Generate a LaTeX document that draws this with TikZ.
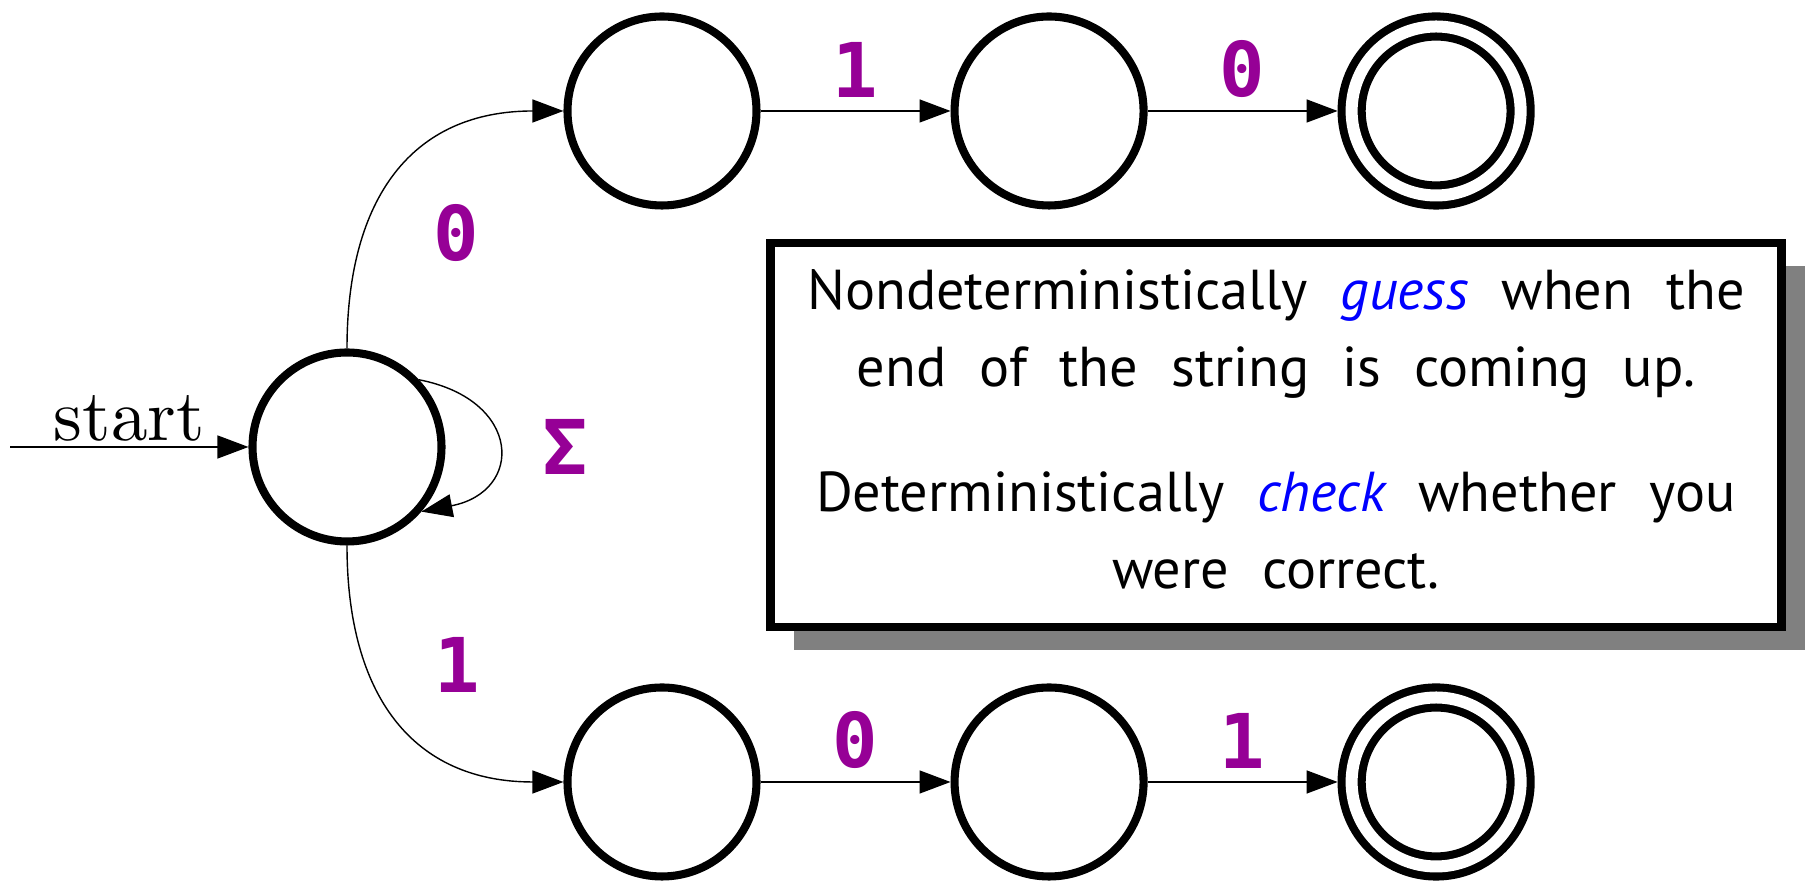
\documentclass[tikz,border=0pt]{standalone}
\usepackage{graphicx}
\usepackage{fontspec}
\newfontfamily\notefont{PT Sans}[WordSpace=2.2]
\newfontfamily\symfont{DejaVu Sans Mono}
\usetikzlibrary{arrows.meta,positioning,shadows}

\definecolor{labelpurple}{RGB}{150,0,150}
\definecolor{hintblue}{RGB}{0,0,255}

\tikzset{
  state/.style={circle,draw,fill=white,line width=2.3pt,minimum size=1.89cm,inner sep=0pt},
  accepting/.style={double,double distance=1.2mm,minimum size=1.69cm,outer sep=1.4mm},
  trans/.style={-{Triangle[length=3.1mm,width=2.3mm]},line width=0.4pt},
  sym/.style={text=labelpurple,inner sep=0pt,
    font=\symfont\bfseries\fontsize{21.5}{21.5}\selectfont},
}

\begin{document}
\begin{tikzpicture}[x=1cm,y=1cm]
  \useasboundingbox (0,0) rectangle (18.12,8.81);
  % start state, with its self loop
  \node[state] (s) at (3.47,4.34) {};
  \coordinate (in) at (0.10,4.34);
  \draw[trans] (in) -- (s)
    node[midway,above=0.5mm,inner sep=0pt] (startlabel) {\scalebox{2.08}{start}};
  \draw[trans] (s.43) to[out=-11,in=11,distance=1.05cm] (s.-41);
  \node[sym] (lsig) at (5.65,4.34) {Σ};
  % upper branch guesses 0, lower branch guesses 1
  \foreach \r/\y/\a/\b in {q/7.70/1/0,p/0.99/0/1} {
    \node[state] (\r1) at (6.62,\y) {};
    \node[state,right=1.9cm of \r1] (\r2) {};
    \node[state,accepting,right=1.9cm of \r2] (\r3) {};
    \draw[trans] (\r1) -- (\r2) node[midway,sym,above=1.3mm] (\r l1) {\a};
    \draw[trans] (\r2) -- (\r3) node[midway,sym,above=1.3mm] (\r l2) {\b};
  }
  \draw[trans] (s.north) to[out=90,in=180,looseness=1.2] (q1.west);
  \draw[trans] (s.south) to[out=-90,in=180,looseness=1.2] (p1.west);
  \node[sym] (lq) at (4.56,6.48) {0};
  \node[sym] (lp) at (4.57,2.16) {1};
  % the note
  \node[draw,fill=white,line width=2.3pt,minimum width=10.11cm,minimum height=3.84cm,
    align=center,text depth=0.12cm,font=\notefont\fontsize{16}{21.9}\selectfont,
    drop shadow={shadow xshift=0.23cm,shadow yshift=-0.23cm,fill=black!50,opacity=1}]
    (note) at (12.76,4.46)
    {Nondeterministically \textcolor{hintblue}{\itshape guess} when the\\
     end of the string is coming up.\\[0.48cm]
     Deterministically \textcolor{hintblue}{\itshape check} whether you\\
     were correct.};
\end{tikzpicture}
\end{document}
